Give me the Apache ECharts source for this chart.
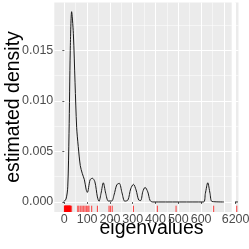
<!DOCTYPE html>
<html><head><meta charset="utf-8">
<script src="https://cdn.jsdelivr.net/npm/echarts@6/dist/echarts.min.js"></script>
<style>html,body{margin:0;padding:0;background:#fff}#c{width:249px;height:249px}</style>
</head><body><div id="c"></div>
<script>
// Density curve (main panel)
const densityX = [-4, 7.5, 15, 20.6, 26, 32, 39.5, 47, 54, 61, 70, 79, 88, 96, 101, 113, 123, 134, 145, 152, 161, 171, 181.5, 193, 208, 218, 230, 241, 253, 265, 279, 291, 303, 314.5, 326, 335, 344, 354, 366, 376, 388, 610, 618.5, 629, 639, 648, 700];
const densityY = [0, 0.0003, 0.0015, 0.0068, 0.015, 0.01884, 0.0167, 0.0118, 0.0074, 0.0055, 0.0036, 0.0028, 0.0022, 0.0012, 0.00095, 0.0022, 0.00235, 0.002, 0.0005, 0.00007, 0.00086, 0.0019, 0.00086, 0.0001, 0.0001, 0.0007, 0.0017, 0.00185, 0.0009, 0.00008, 0.0002, 0.0013, 0.00175, 0.0012, 0.0002, 0.00015, 0.00102, 0.00145, 0.001, 0.00015, 0, 0, 0.00085, 0.0019, 0.00085, 0.00005, 0];
// Density curve (right panel, after the axis gap)
const density2X = [6183, 6280];
const density2Y = [0, 0];
// Rug: eigenvalues
const rugMain = [0.3, 1.2, 2, 3.1, 4.5, 5.3, 6, 7.2, 8, 9.1, 10.5, 11.3, 12, 13.2, 14, 15.1, 16.5, 17.4, 18, 19.2, 20, 21.3, 22.5, 23.1, 24, 25.2, 26, 27.3, 32, 59, 64, 72, 78, 85, 91, 98, 103, 108, 120, 145, 196, 202, 210, 303, 408, 490, 655];
const rugRight = [6240];
// Tick labels
const xTicks = [0, 100, 200, 300, 400, 500, 600];
const xMajorGrid = [0, 100, 200, 300, 400, 500, 600, 700];
const xMinorGrid = [50, 150, 250, 350, 450, 550, 650];
const x2Ticks = [6200];
const yTicks = [0, 0.005, 0.010, 0.015];
const yMinorGrid = [0.0025, 0.0075, 0.0125, 0.0175];

const FONT = 'Liberation Sans';
const X1 = {min: -44, max: 734};
const X2 = {min: 6180, max: 6300};
const Y = {min: -0.00099, max: 0.01975};

const chart = echarts.init(document.getElementById('c'), null, {renderer: 'canvas'});

function gridAxis(gridIndex, range, values, width) {
  return {
    type: 'value', gridIndex, min: range.min, max: range.max,
    axisLine: {show: false}, axisLabel: {show: false},
    axisTick: {show: false, customValues: values},
    splitLine: {show: true, lineStyle: {color: '#ffffff', width}},
    silent: true
  };
}

function rugSeries(data, xAxisIndex, yAxisIndex) {
  return {
    type: 'custom', xAxisIndex, yAxisIndex, silent: true, z: 5,
    data: data.map(v => [v, 0]),
    encode: {x: 0, y: 1},
    renderItem: function (params, api) {
      const x = api.coord([api.value(0), 0])[0];
      const bottom = params.coordSys.y + params.coordSys.height;
      return {
        type: 'line',
        shape: {x1: x, y1: bottom, x2: x, y2: bottom - 6.3},
        style: {stroke: 'rgba(255,0,0,0.75)', lineWidth: 1}
      };
    }
  };
}

const xLabel = {show: true, margin: 1, fontSize: 12.5, color: '#4D4D4D', fontFamily: FONT,
  hideOverlap: false, formatter: v => String(v)};

const option = {
  animation: false,
  backgroundColor: '#ffffff',
  grid: [
    {left: 54.3, top: 2.5, width: 177.4, height: 209.5, show: true, backgroundColor: '#EBEBEB', borderWidth: 0},
    {left: 235, top: 2.5, width: 14, height: 209.5, show: true, backgroundColor: '#EBEBEB', borderWidth: 0}
  ],
  xAxis: [
    {
      type: 'value', gridIndex: 0, min: X1.min, max: X1.max,
      axisLine: {show: false},
      axisTick: {show: true, length: 2, customValues: xTicks, lineStyle: {color: '#333333', width: 0.8}},
      axisLabel: Object.assign({customValues: xTicks}, xLabel),
      splitLine: {show: false}
    },
    gridAxis(0, X1, xMajorGrid, 1),
    gridAxis(0, X1, xMinorGrid, 0.5),
    {
      type: 'value', gridIndex: 1, min: X2.min, max: X2.max,
      axisLine: {show: false},
      axisTick: {show: true, length: 2, customValues: x2Ticks, lineStyle: {color: '#333333', width: 0.8}},
      axisLabel: Object.assign({customValues: x2Ticks}, xLabel),
      splitLine: {show: true, lineStyle: {color: '#ffffff', width: 1}}
    }
  ],
  yAxis: [
    {
      type: 'value', gridIndex: 0, min: Y.min, max: Y.max,
      axisLine: {show: false},
      axisTick: {show: true, length: 2, customValues: yTicks, lineStyle: {color: '#333333', width: 0.8}},
      axisLabel: {show: true, customValues: yTicks, margin: 1, fontSize: 12.5, color: '#4D4D4D', fontFamily: FONT,
        formatter: v => Number(v).toFixed(3)},
      splitLine: {show: true, lineStyle: {color: '#ffffff', width: 1}}
    },
    gridAxis(0, Y, yMinorGrid, 0.5),
    {
      type: 'value', gridIndex: 1, min: Y.min, max: Y.max,
      axisLine: {show: false}, axisLabel: {show: false},
      axisTick: {show: false, customValues: yTicks},
      splitLine: {show: true, lineStyle: {color: '#ffffff', width: 1}}
    },
    gridAxis(1, Y, yMinorGrid, 0.5)
  ],
  series: [
    {
      type: 'line', xAxisIndex: 0, yAxisIndex: 0, showSymbol: false, smooth: 0.3, z: 4,
      lineStyle: {color: '#1a1a1a', width: 1},
      data: densityX.map((x, i) => [x, densityY[i]])
    },
    {
      type: 'line', xAxisIndex: 3, yAxisIndex: 2, showSymbol: false, z: 4,
      lineStyle: {color: '#1a1a1a', width: 1},
      data: density2X.map((x, i) => [x, density2Y[i]])
    },
    rugSeries(rugMain, 0, 0),
    rugSeries(rugRight, 3, 2)
  ],
  graphic: [
    {type: 'text', x: 151.5, y: 229, silent: true,
      style: {text: 'eigenvalues', fontSize: 19.5, fontFamily: FONT, fill: '#000000', align: 'center', verticalAlign: 'middle'}},
    {type: 'text', x: 13.5, y: 107, rotation: Math.PI / 2, silent: true,
      style: {text: 'estimated density', fontSize: 19.5, fontFamily: FONT, fill: '#000000', align: 'center', verticalAlign: 'middle'}}
  ]
};
chart.setOption(option);
</script>
</body></html>
